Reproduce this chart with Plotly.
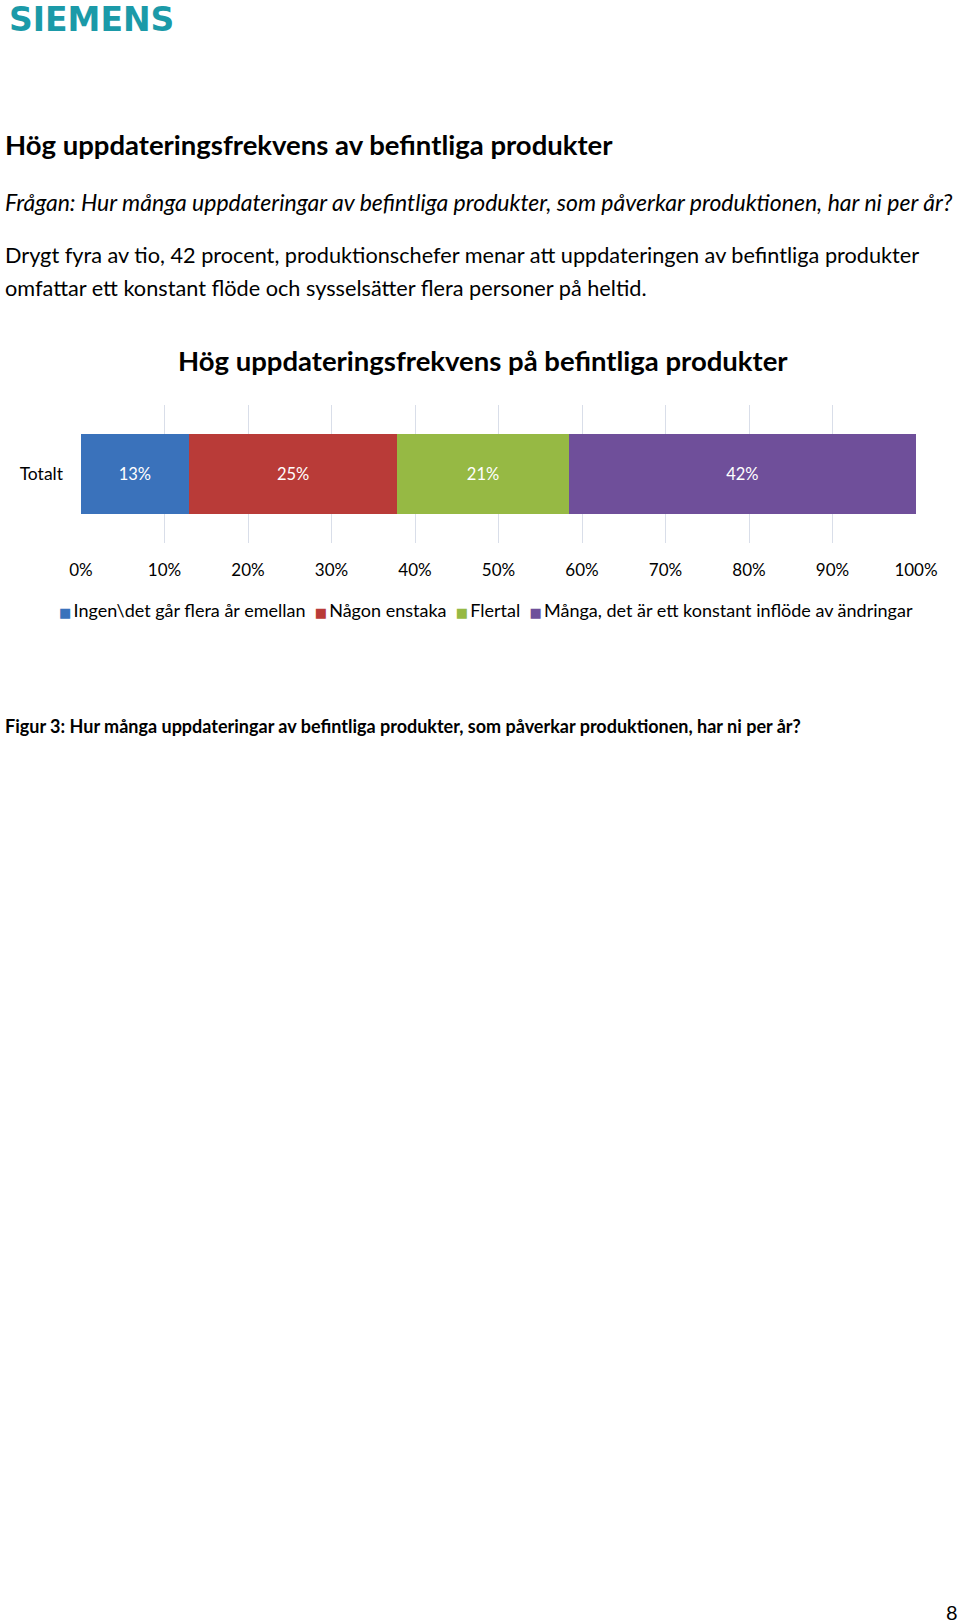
import plotly.graph_objects as go

# ---- data ----
categories = ["Totalt"]
series_names = [
    "Ingen\\det går flera år emellan",
    "Någon enstaka",
    "Flertal",
    "Många, det är ett konstant inflöde av ändringar",
]
series_values = [0.129, 0.250, 0.205, 0.416]
series_labels = ["13%", "25%", "21%", "42%"]
series_colors = ["#3a72bb", "#b93b38", "#96b944", "#6f4f9a"]
x_ticks = [0, 0.1, 0.2, 0.3, 0.4, 0.5, 0.6, 0.7, 0.8, 0.9, 1.0]

W, H = 960, 1624
FONT = "Lato"

def py(px):
    return 1 - px / H

def pxx(px):
    return px / W

fig = go.Figure()
for name, v, lab, col in zip(series_names, series_values, series_labels, series_colors):
    fig.add_trace(go.Bar(
        y=categories, x=[v], name=name, orientation="h",
        marker=dict(color=col, line=dict(width=0)),
        text=[lab], textposition="inside", insidetextanchor="middle",
        textfont=dict(color="white", size=16.5, family=FONT),
        width=0.58, hoverinfo="skip", showlegend=False,
    ))

fig.update_layout(
    template="none",
    width=W, height=H, autosize=False,
    margin=dict(l=0, r=0, t=0, b=0, pad=0),
    paper_bgcolor="white", plot_bgcolor="white",
    barmode="stack",
    font=dict(family=FONT, color="#000000"),
    xaxis=dict(
        domain=[pxx(81), pxx(916)], range=[0, 1], automargin=False,
        tickvals=x_ticks, tickformat=".0%", ticks="",
        showgrid=True, gridcolor="#d9dee9", gridwidth=1,
        zeroline=False, showline=False,
        tickfont=dict(size=17, family=FONT, color="#000"),
        ticklabelstandoff=15, fixedrange=True,
    ),
    yaxis=dict(
        domain=[py(543), py(405)], range=[-0.5, 0.5], automargin=False,
        showgrid=False, zeroline=False, showline=False, ticks="",
        tickfont=dict(size=17.5, family=FONT, color="#000"),
        ticklabelstandoff=17, fixedrange=True,
    ),
    showlegend=False,
)

# legend built as text from the series names/colours
legend_parts = [
    f"<span style='color:{c};font-family:DejaVu Sans;font-size:13px'>■</span>&#8201;{n}"
    for n, c in zip(series_names, series_colors)
]
legend_text = "&nbsp;&nbsp;".join(legend_parts)

annots = [
    dict(text="<b>SIEMENS</b>", x=pxx(7), y=py(19), xanchor="left", yanchor="middle",
         font=dict(size=33, family="DejaVu Sans", color="#1b9aa8")),
    dict(text="<b>Hög uppdateringsfrekvens av befintliga produkter</b>", x=pxx(3), y=py(144),
         xanchor="left", yanchor="middle", font=dict(size=27.5, family=FONT)),
    dict(text="<i>Frågan: Hur många uppdateringar av befintliga produkter, som påverkar produktionen, har ni per år?</i>",
         x=pxx(3), y=py(202), xanchor="left", yanchor="middle", font=dict(size=23, family=FONT)),
    dict(text="Drygt fyra av tio, 42 procent, produktionschefer menar att uppdateringen av befintliga produkter",
         x=pxx(3), y=py(255), xanchor="left", yanchor="middle", font=dict(size=21.7, family=FONT)),
    dict(text="omfattar ett konstant flöde och sysselsätter flera personer på heltid.",
         x=pxx(3), y=py(288), xanchor="left", yanchor="middle", font=dict(size=21.7, family=FONT)),
    dict(text="<b>Hög uppdateringsfrekvens på befintliga produkter</b>", x=pxx(483), y=py(361),
         xanchor="center", yanchor="middle", font=dict(size=27.5, family=FONT)),
    dict(text=legend_text, x=pxx(486), y=py(610), xanchor="center", yanchor="middle",
         font=dict(size=18, family=FONT, color="#000")),
    dict(text="<b>Figur 3: Hur många uppdateringar av befintliga produkter, som påverkar produktionen, har ni per år?</b>",
         x=pxx(3), y=py(726), xanchor="left", yanchor="middle", font=dict(size=18, family=FONT)),
    dict(text="8", x=pxx(960), y=py(1612), xanchor="right", yanchor="middle", font=dict(size=20, family=FONT)),
]
for a in annots:
    a.update(xref="paper", yref="paper", showarrow=False)
fig.update_layout(annotations=annots)

fig.write_html("out.html", config={"displayModeBar": False},
               post_script="document.body.style.margin='0px';document.body.style.overflow='hidden';")
